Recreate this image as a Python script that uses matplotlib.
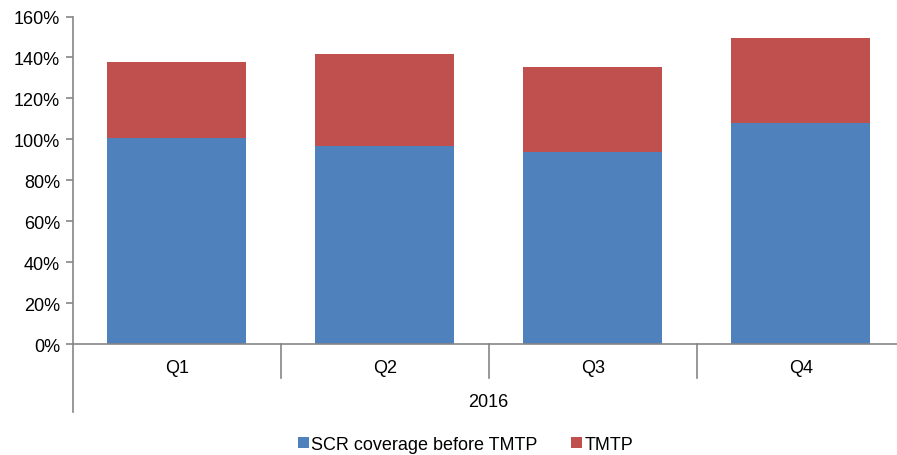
import numpy as np
import matplotlib.pyplot as plt
from matplotlib.lines import Line2D
from matplotlib.ticker import PercentFormatter

plt.rcParams['font.family'] = ['Liberation Sans', 'DejaVu Sans']

quarters = ['Q1', 'Q2', 'Q3', 'Q4']
year = '2016'
scr_before = [100.6, 96.6, 93.8, 107.8]
tmtp = [37.3, 44.9, 41.4, 41.5]

blue = '#4f81bd'
red = '#c0504d'
grey = '#868686'
fs = 13

fig = plt.figure(figsize=(8.97, 4.56), dpi=100)
ax = fig.add_axes([0.081, 0.2434, 0.9275, 0.7182])

x = np.arange(len(quarters))
ax.bar(x, scr_before, width=0.667, color=blue, label='SCR coverage before TMTP')
ax.bar(x, tmtp, width=0.667, bottom=scr_before, color=red, label='TMTP')

ax.set_xlim(-0.5, 3.5)
ax.set_ylim(0, 160)
ax.set_yticks(np.arange(0, 161, 20))
ax.yaxis.set_major_formatter(PercentFormatter(decimals=0))
ax.tick_params(axis='y', labelsize=fs, length=5, width=1.2, color=grey, pad=4)
ax.set_xticks([])

for s in ['top', 'right']:
    ax.spines[s].set_visible(False)
for s in ['left', 'bottom']:
    ax.spines[s].set_color(grey)
    ax.spines[s].set_linewidth(1.2)

# category labels and dividers under the axis
trans = ax.get_xaxis_transform()
for i, q in enumerate(quarters):
    ax.text(i, -0.072, q, transform=trans, ha='center', va='center', fontsize=fs)
for xb in [0.5, 1.5, 2.5]:
    ax.add_line(Line2D([xb, xb], [0, -0.104], transform=trans, color=grey, lw=1.2, clip_on=False))
ax.add_line(Line2D([0, 0], [0, -0.2076], transform=ax.transAxes, color=grey, lw=1.2, clip_on=False))
ax.text(1.5, -0.177, year, transform=trans, ha='center', va='center', fontsize=fs)

fig.legend(loc='center', bbox_to_anchor=(0.519, 0.024), ncol=2, frameon=False, fontsize=fs,
           handlelength=0.58, handleheight=0.58, handletextpad=0.15, columnspacing=1.85,
           borderpad=0)

fig.savefig('out.png', dpi=100)
